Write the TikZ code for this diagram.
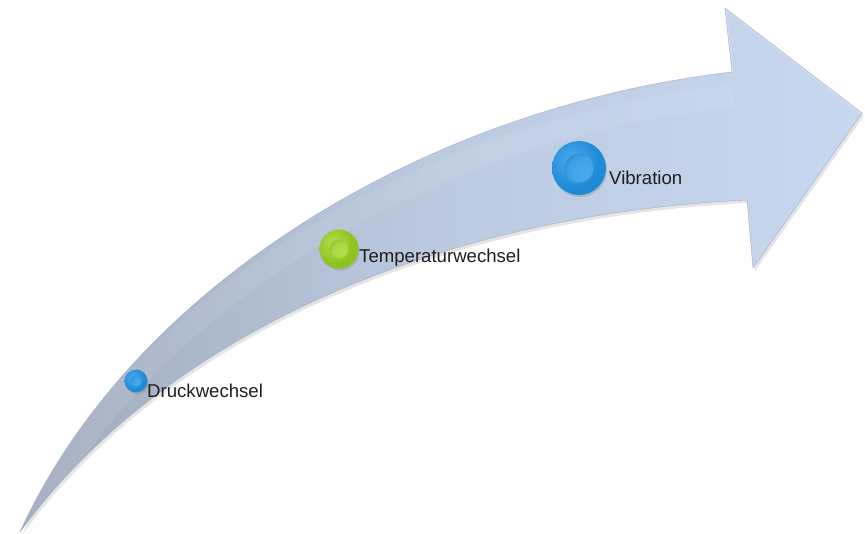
\documentclass[tikz,border=0pt]{standalone}
\usepackage{fontspec}
\setmainfont{Liberation Sans}
\usetikzlibrary{shadows}

\definecolor{arrowL}{RGB}{160,170,188}
\definecolor{arrowM}{RGB}{188,202,224}
\definecolor{arrowR}{RGB}{200,216,240}
\definecolor{arrowEdge}{RGB}{160,174,198}
\definecolor{labeltext}{RGB}{30,30,30}

\definecolor{bluerim}{RGB}{12,95,170}
\definecolor{bluemid}{RGB}{32,138,215}
\definecolor{bluelight}{RGB}{75,172,238}
\definecolor{greenrim}{RGB}{100,145,12}
\definecolor{greenmid}{RGB}{140,195,30}
\definecolor{greenlight}{RGB}{180,222,80}

% button shadings: mid-tone face, dark rim
\pgfdeclareradialshading{bluebtn}{\pgfpoint{-8bp}{8bp}}{%
  color(0bp)=(bluelight); color(25bp)=(bluemid); color(42bp)=(bluemid);
  color(52bp)=(bluerim); color(100bp)=(bluerim)}
\pgfdeclareradialshading{bluecore}{\pgfpoint{10bp}{-10bp}}{%
  color(0bp)=(bluelight); color(25bp)=(bluelight!70!bluemid);
  color(50bp)=(bluemid!85!black); color(100bp)=(bluemid!85!black)}
\pgfdeclareradialshading{greenbtn}{\pgfpoint{-8bp}{8bp}}{%
  color(0bp)=(greenlight); color(25bp)=(greenmid); color(42bp)=(greenmid);
  color(52bp)=(greenrim); color(100bp)=(greenrim)}
\pgfdeclareradialshading{greencore}{\pgfpoint{10bp}{-10bp}}{%
  color(0bp)=(greenlight); color(25bp)=(greenlight!70!greenmid);
  color(50bp)=(greenmid!85!black); color(100bp)=(greenmid!85!black)}

\tikzset{
  flowshape/.style={insert path={
    (20,532) .. controls (130,290) and (420,108) .. (732,72)
    -- (725,8) -- (862,113) -- (753,268) -- (747,200)
    .. controls (430,215) and (160,340) .. cycle}},
  btn/.style={circle, inner sep=0pt, minimum size=#1,
    drop shadow={shadow xshift=1pt, shadow yshift=-2pt, opacity=0.3}},
  core/.style={circle, inner sep=0pt, minimum size=#1},
  lbl/.style={anchor=base west, inner sep=0pt,
    font=\fontsize{18.6}{21}\selectfont, text=labeltext},
}

\begin{document}
\begin{tikzpicture}[x=1pt, y=-1pt]
  \useasboundingbox (0,0) rectangle (865,533);

  % soft shadow under the arrow
  \path[shift={(2,3)}, flowshape, fill=black, opacity=0.10];
  % arrow body
  \path[flowshape, left color=arrowL, right color=arrowR, middle color=arrowM];
  % faint bevel along the upper part of the shaft and the head
  \begin{scope}
    \clip[flowshape];
    \draw[white, opacity=0.08, line width=22pt]
      (30,525) .. controls (145,300) and (430,128) .. (733,96);
    \draw[white, opacity=0.2, line width=3pt]
      (732,72) -- (725,8) -- (862,113);
  \end{scope}
  \path[flowshape, draw=arrowEdge, line width=0.4pt, line join=round];

  % buttons
  \node[btn=23pt, shading=bluebtn] (druck) at (136,381) {};
  \node[core=11pt, shading=bluecore] (druckcore) at (druck.center) {};

  \node[btn=39pt, shading=greenbtn] (temp) at (339,249) {};
  \node[core=19pt, shading=greencore] (tempcore) at (temp.center) {};

  \node[btn=54pt, shading=bluebtn] (vib) at (579,168) {};
  \node[core=29pt, shading=bluecore] (vibcore) at (vib.center) {};

  % labels
  \node[lbl] (druckl) at (147,397) {Druckwechsel};
  \node[lbl] (templ) at (359,262) {Temperaturwechsel};
  \node[lbl] (vibl) at (609,184) {Vibration};
\end{tikzpicture}
\end{document}
